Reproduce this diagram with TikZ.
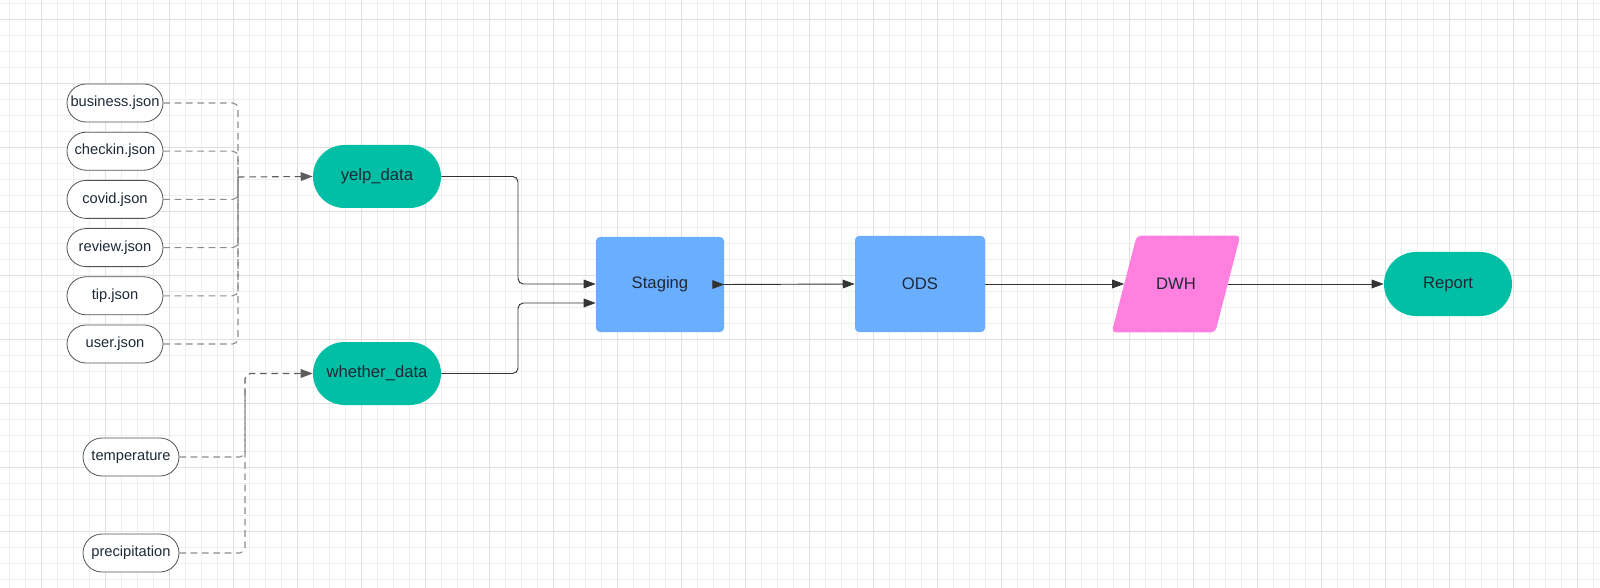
\documentclass[tikz,border=0pt]{standalone}
\usepackage{fontspec}
\setmainfont{Liberation Sans}
\usetikzlibrary{arrows.meta,calc}

\definecolor{tealfill}{HTML}{00BFA5}
\definecolor{bluefill}{HTML}{6AAFFF}
\definecolor{pinkfill}{HTML}{FF80DF}
\definecolor{gridminor}{HTML}{EEEEEE}
\definecolor{gridmajor}{HTML}{E0E0E0}
\definecolor{linedark}{HTML}{333333}
\definecolor{linegray}{HTML}{8C8C8C}
\definecolor{textdark}{HTML}{1F2937}

\tikzset{
  srcbox/.style={draw=linedark!85, line width=0.6pt, fill=white, text=textdark,
    minimum width=72pt, minimum height=28.5pt, inner sep=0pt,
    rounded corners=14.25pt, font=\fontsize{11}{13}\selectfont},
  pillbox/.style={fill=tealfill, text=textdark, minimum width=96pt, minimum height=47.25pt,
    inner sep=0pt, rounded corners=23.6pt, font=\fontsize{12.5}{15}\selectfont},
  stagebox/.style={fill=bluefill, text=textdark, minimum width=96pt, minimum height=71.25pt,
    inner sep=0pt, rounded corners=3pt, font=\fontsize{12.5}{15}\selectfont},
  flow/.style={draw=linedark, line width=0.7pt, -{Triangle[length=9pt,width=6.5pt]}},
  feed/.style={draw=linegray, line width=0.8pt, dash pattern=on 5pt off 3.5pt, rounded corners=4pt},
}

\begin{document}
\begin{tikzpicture}[x=0.75pt, y=-0.75pt]
\useasboundingbox (0,0) rectangle (1600,588);
% grid paper
\foreach \x in {9.3,25.3,...,1600} \draw[gridminor, line width=0.5pt] (\x,0) -- (\x,588);
\foreach \y in {3.3,19.3,...,588} \draw[gridminor, line width=0.5pt] (0,\y) -- (1600,\y);
\foreach \x in {41.3,105.3,...,1600} \draw[gridmajor, line width=0.6pt] (\x,0) -- (\x,588);
\foreach \y in {19.3,83.3,...,588} \draw[gridmajor, line width=0.6pt] (0,\y) -- (1600,\y);

% sources
\node[srcbox] (bs) at (115,103) {business.json};
\node[srcbox] (ck) at (115,151.2) {checkin.json};
\node[srcbox] (cv) at (115,199.4) {covid.json};
\node[srcbox] (rv) at (115,247.6) {review.json};
\node[srcbox] (tp) at (115,295.8) {tip.json};
\node[srcbox] (us) at (115,344) {user.json};
\node[srcbox] (tmp) at (131,457) {temperature};
\node[srcbox] (prc) at (131,553) {precipitation};

% datasets
\node[pillbox] (yelp) at (377,176.5) {yelp\_data};
\node[pillbox] (whet) at (377,373.5) {whether\_data};

% pipeline
\node[stagebox] (stg) at (660,284.5) {Staging};
\node[stagebox, minimum width=97.5pt, minimum height=72pt] (ods) at (920,284) {ODS};
\node[minimum width=77.25pt, minimum height=72pt, inner sep=0pt] (dwh) at (1176,284) {};
\fill[pinkfill, rounded corners=3pt] ($(dwh.south west)+(-12.5,0)$) -- ($(dwh.south east)+(-12.5,0)$)
  -- ($(dwh.north east)+(12.5,0)$) -- ($(dwh.north west)+(12.5,0)$) -- cycle;
\node[text=textdark, font=\fontsize{12.5}{15}\selectfont] (dwhtext) at (dwh.center) {DWH};
\node[pillbox, minimum height=48pt, rounded corners=24pt] (rep) at (1448,284) {Report};

% joins
\coordinate (yj) at (238,177);
\coordinate (wj) at (245,395);
\coordinate (s1) at ($(stg.west)+(0,-0.5)$);
\coordinate (s2) at ($(stg.west)+(0,18.5)$);

\foreach \s in {bs,ck,cv,rv,tp,us}
  \draw[feed] (\s.east) -| (yj);
\draw[feed, draw=linedark!80, -{Triangle[length=9pt,width=6.5pt]}] (yj) -- (yelp.west);
\foreach \s in {tmp,prc}
  \draw[feed] (\s.east) -| (wj);
\draw[feed, draw=linedark!80, -{Triangle[length=9pt,width=6.5pt]}] (wj) |- (whet.west);

\draw[flow, rounded corners=4pt] (yelp.east) -| (518,284) -- (s1);
\draw[flow, rounded corners=4pt] (whet.east) -| (518,303) -- (s2);
\draw[flow, {Triangle[reversed,length=9pt,width=6.5pt]}-{Triangle[length=9pt,width=6.5pt]}, shorten <=-9pt] (stg.east) -- (ods.west);
\draw[flow] (ods.east) -- (dwh.west);
\draw[flow] (dwh.east) -- (rep.west);
\end{tikzpicture}
\end{document}
